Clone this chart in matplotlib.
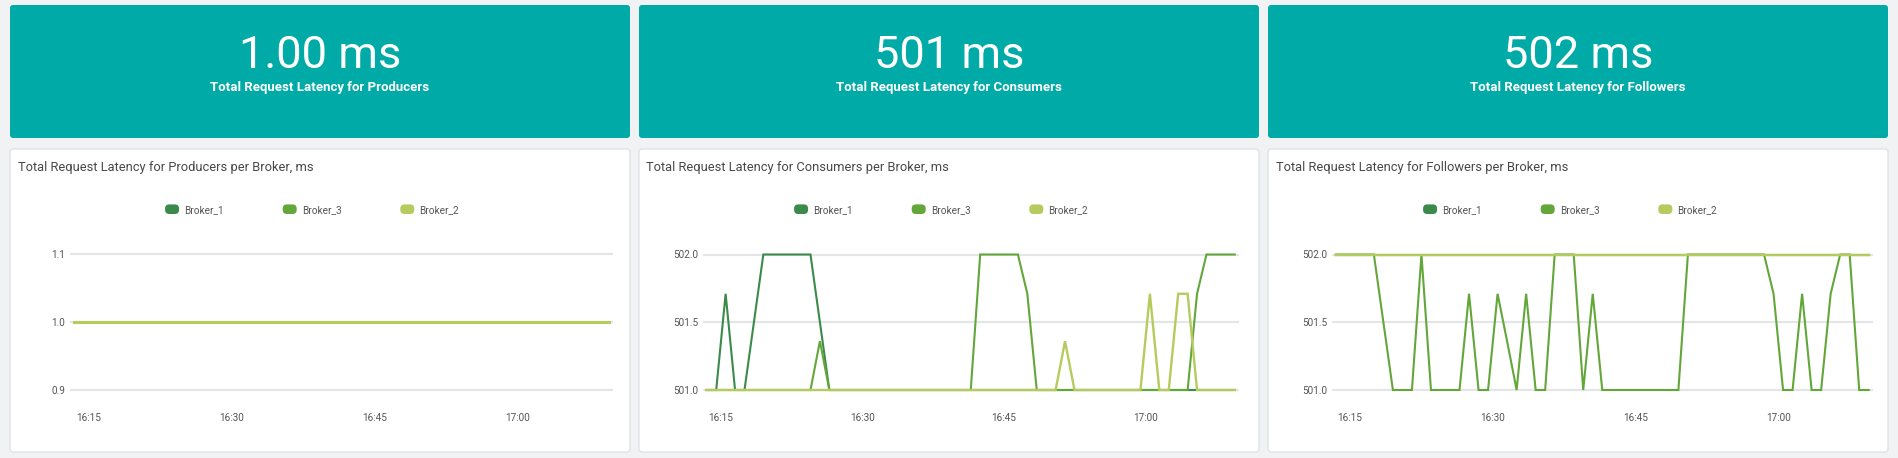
import matplotlib
matplotlib.use("Agg")
import matplotlib.pyplot as plt
import matplotlib.dates as mdates
import matplotlib.patches as mpatches
from matplotlib.legend_handler import HandlerPatch
import pandas as pd

# ---------------- data ----------------
start_time = "2024-01-01 16:13:30"
n_points = 57

stat_values = ["1.00 ms", "501 ms", "502 ms"]
stat_labels = ["Total Request Latency for Producers",
               "Total Request Latency for Consumers",
               "Total Request Latency for Followers"]
chart_titles = ["Total Request Latency for Producers per Broker, ms",
                "Total Request Latency for Consumers per Broker, ms",
                "Total Request Latency for Followers per Broker, ms"]
series_names = ["Broker_1", "Broker_3", "Broker_2"]
series_colors = ["#3b8a4b", "#63a63a", "#b6cb5e"]

producers_broker_1 = [1.0] * 57
producers_broker_3 = [1.0] * 57
producers_broker_2 = [1.0] * 57

consumers_broker_1 = ([501, 501, 501.71, 501, 501, 501.5]
                      + [502] * 6 + [501.5] + [501] * 44)
consumers_broker_3 = ([501] * 12 + [501.36] + [501] * 16 + [502] * 5
                      + [501.71] + [501] * 17 + [501.71] + [502] * 4)
consumers_broker_2 = ([501] * 38 + [501.36] + [501] * 8 + [501.71]
                      + [501] * 2 + [501.71] * 2 + [501] * 5)

followers_broker_1 = [502] * 57
followers_broker_3 = ([502] * 5 + [501.5] + [501] * 3 + [502] + [501] * 4
                      + [501.71] + [501] * 2 + [501.71, 501.36, 501, 501.71]
                      + [501] * 2 + [502] * 3 + [501, 501.71] + [501] * 9
                      + [502] * 9 + [501.71] + [501] * 2 + [501.71]
                      + [501] * 2 + [501.71] + [502] * 2 + [501] * 2)
followers_broker_2 = [502] * 57

yticks_producers = [0.9, 1.0, 1.1]
yticks_consumers = [501.0, 501.5, 502.0]
yticks_followers = [501.0, 501.5, 502.0]

panels = [
    (producers_broker_1, producers_broker_3, producers_broker_2, yticks_producers),
    (consumers_broker_1, consumers_broker_3, consumers_broker_2, yticks_consumers),
    (followers_broker_1, followers_broker_3, followers_broker_2, yticks_followers),
]

times = pd.date_range(start_time, periods=n_points, freq="min")

# ---------------- layout ----------------
W, H = 1898, 458
DPI = 100
FONT = "Roboto"
plt.rcParams["font.family"] = [FONT, "DejaVu Sans"]

fig = plt.figure(figsize=(W / DPI, H / DPI), dpi=DPI)
fig.patch.set_facecolor("#f1f2f3")


def box_px(x0, y0, x1, y1, fc, ec="none", lw=0, r=3):
    p = mpatches.FancyBboxPatch(
        (x0 / DPI, (H - y1) / DPI), (x1 - x0) / DPI, (y1 - y0) / DPI,
        boxstyle=mpatches.BoxStyle("Round", pad=0, rounding_size=r / DPI),
        transform=fig.dpi_scale_trans, facecolor=fc, edgecolor=ec, linewidth=lw,
        zorder=-5)
    fig.patches.append(p)


renderer = fig.canvas.get_renderer()


def fit(t, target):
    w = t.get_window_extent(renderer).width
    t.set_fontsize(t.get_fontsize() * target / w)
    return t.get_fontsize()


cards_x = [(10, 630), (639, 1259), (1268, 1888)]
axes_x = [(70, 613), (703, 1239), (1332, 1873)]
val_top, val_bot = 254.5, 390.0
pad_px = 2.5
ax_top, ax_bot = val_top - pad_px, val_bot + pad_px

big_size = None
sub_size = None
title_size = None


class RoundHandler(HandlerPatch):
    def create_artists(self, legend, orig_handle, xdescent, ydescent,
                       width, height, fontsize, trans):
        p = mpatches.FancyBboxPatch(
            (-xdescent, -ydescent), width, height,
            boxstyle=mpatches.BoxStyle("Round", pad=0, rounding_size=3),
            facecolor=orig_handle.get_facecolor(), edgecolor="none",
            transform=trans)
        return [p]


for i, (cx0, cx1) in enumerate(cards_x):
    # stat card
    box_px(cx0, 5, cx1, 138, "#00aaa7")
    cxm = (cx0 + cx1) / 2
    t = fig.text(cxm / W, 1 - 68 / H, stat_values[i], color="white",
                 ha="center", va="baseline", fontsize=34)
    if big_size is None:
        big_size = fit(t, 163)
    else:
        t.set_fontsize(big_size)
    t = fig.text(cxm / W, 1 - 91.5 / H, stat_labels[i], color="white",
                 ha="center", va="baseline", fontsize=8, fontweight="bold")
    if sub_size is None:
        sub_size = fit(t, 220)
    else:
        t.set_fontsize(sub_size)

    # chart card
    box_px(cx0, 149, cx1, 452, "white", ec="#dcdddf", lw=0.8)
    t = fig.text((cx0 + 7.5) / W, 1 - 171.5 / H, chart_titles[i], color="#474747",
                 ha="left", va="baseline", fontsize=8)
    if title_size is None:
        title_size = fit(t, 296)
    else:
        t.set_fontsize(title_size)

    # axes
    ax0, ax1 = axes_x[i]
    ax = fig.add_axes([ax0 / W, 1 - ax_bot / H, (ax1 - ax0) / W, (ax_bot - ax_top) / H])
    b1, b3, b2, yt = panels[i]
    base_lw = 2.0 if i == 0 else 1.5
    for vals, name, col in zip((b1, b3, b2), series_names, series_colors):
        lw = base_lw + (0.2 if name == "Broker_2" else 0.0)
        ax.plot(times, vals, color=col, lw=lw, label=name, solid_joinstyle="miter")

    vmin, vmax = yt[0], yt[-1]
    per_px = (vmax - vmin) / (val_bot - val_top)
    ax.set_ylim(vmin - pad_px * per_px, vmax + pad_px * per_px)
    ax.set_yticks(yt)
    ax.yaxis.set_major_formatter(matplotlib.ticker.FormatStrFormatter("%.1f"))
    ax.set_xlim(times[0] - pd.Timedelta(seconds=24), times[-1] + pd.Timedelta(seconds=27))
    ax.xaxis.set_major_locator(mdates.MinuteLocator(byminute=[0, 15, 30, 45]))
    ax.xaxis.set_major_formatter(mdates.DateFormatter("%H:%M"))
    ax.grid(axis="y", color="#e4e5e7", lw=1.5)
    ax.grid(axis="x", visible=False)
    ax.set_axisbelow(True)
    for s in ax.spines.values():
        s.set_visible(False)
    ax.tick_params(axis="both", length=0, labelsize=7.2, colors="#555555")
    ax.tick_params(axis="y", pad=3.6)
    ax.tick_params(axis="x", pad=14.5)
    ax.set_facecolor("white")

    # legend
    handles = [mpatches.Patch(color=c, label=n) for n, c in zip(series_names, series_colors)]
    fs = 7.2
    fpx = fs * DPI / 72
    leg = ax.legend(handles=handles, ncol=3, loc="center",
                    bbox_to_anchor=((cxm - 8) / W, 1 - 209.5 / H),
                    bbox_transform=fig.transFigure, frameon=False,
                    fontsize=fs, handlelength=14 / fpx, handleheight=11 / fpx,
                    handletextpad=5 / fpx, columnspacing=59 / fpx, borderpad=0,
                    handler_map={mpatches.Patch: RoundHandler()})
    for txt in leg.get_texts():
        txt.set_color("#555555")

fig.savefig("out.png", dpi=DPI, facecolor=fig.get_facecolor())
